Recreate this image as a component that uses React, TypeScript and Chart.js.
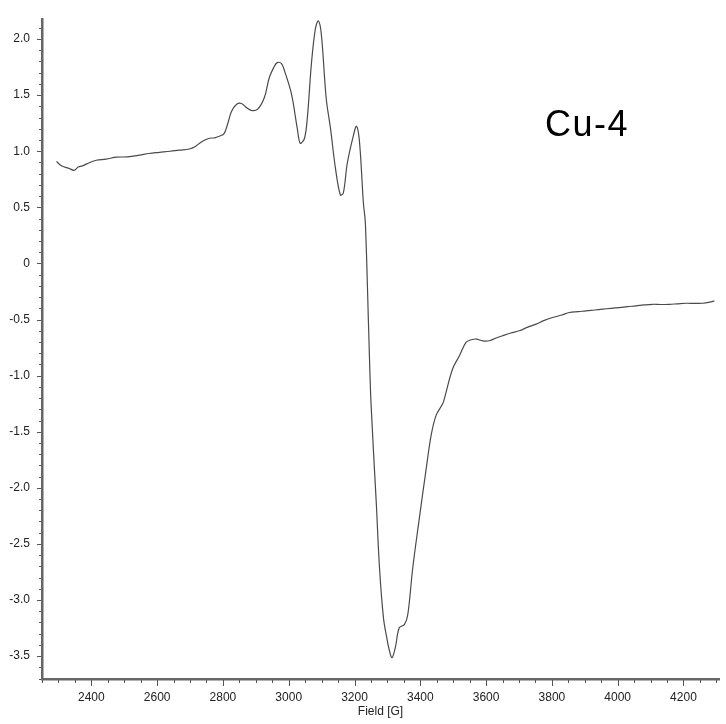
import React, { useEffect, useRef } from "react";
import { Chart, registerables } from "chart.js";

Chart.register(...registerables);

// Field (G) and EPR signal
const fieldG = [
  2294, 2309, 2330, 2348, 2360, 2373, 2395, 2415, 2445, 2476, 2510, 2546, 2575, 2607,
  2640, 2667, 2698, 2715, 2728, 2745, 2759, 2775, 2789, 2804, 2815, 2826, 2841, 2856,
  2871, 2886, 2905, 2926, 2941, 2955, 2965, 2978, 2987, 3008, 3026, 3035, 3048, 3057,
  3069, 3081, 3090, 3099, 3114, 3127, 3142, 3157, 3166, 3178, 3196, 3206, 3215, 3227,
  3233, 3243, 3250, 3266, 3276, 3288, 3298, 3306, 3314, 3324, 3336, 3352, 3362, 3377,
  3397, 3418, 3433, 3448, 3468, 3473, 3498, 3519, 3539, 3555, 3570, 3590, 3610, 3630,
  3650, 3675, 3701, 3725, 3752, 3775, 3802, 3830, 3853, 3880, 3904, 3930, 3954, 3980,
  4005, 4030, 4056, 4080, 4106, 4130, 4157, 4180, 4208, 4235, 4258, 4280, 4294,
];
const signal = [
  0.91, 0.87, 0.85, 0.83, 0.86, 0.87, 0.9, 0.92, 0.93, 0.947, 0.95, 0.965, 0.98, 0.99,
  1.0, 1.01, 1.02, 1.04, 1.07, 1.1, 1.116, 1.12, 1.133, 1.16, 1.25, 1.355, 1.417, 1.426,
  1.39, 1.364, 1.373, 1.479, 1.657, 1.75, 1.79, 1.781, 1.719, 1.515, 1.204, 1.071, 1.116, 1.311,
  1.781, 2.091, 2.162, 2.047, 1.47, 1.204, 0.849, 0.61, 0.627, 0.893, 1.133, 1.222, 1.089, 0.539,
  0.361, -0.588, -1.236, -2.123, -2.715, -3.159, -3.336, -3.45, -3.514, -3.425, -3.248, -3.217, -3.129, -2.715,
  -2.272, -1.828, -1.531, -1.354, -1.251, -1.207, -0.941, -0.822, -0.704, -0.68, -0.674, -0.69, -0.689, -0.665,
  -0.644, -0.62, -0.6, -0.57, -0.541, -0.51, -0.482, -0.46, -0.437, -0.43, -0.422, -0.415, -0.408, -0.4,
  -0.393, -0.385, -0.378, -0.37, -0.364, -0.366, -0.364, -0.36, -0.355, -0.356, -0.355, -0.345, -0.334,
];

const xTickLabels = [2400, 2600, 2800, 3000, 3200, 3400, 3600, 3800, 4000, 4200];
const yTickLabels = [2.0, 1.5, 1.0, 0.5, 0, -0.5, -1.0, -1.5, -2.0, -2.5, -3.0, -3.5];
const sampleName = "Cu-4";

const X_MIN = 2250;
const X_MAX = 4308;
const Y_MIN = -3.704;
const Y_MAX = 2.177;

function fmtY(v: number): string {
  if (Math.abs(v) < 1e-9) return "0";
  return v.toFixed(1);
}

const tickPlugin = {
  id: "minorMajorTicks",
  afterDraw(chart: any) {
    const ctx = chart.ctx;
    const xs = chart.scales.x;
    const ys = chart.scales.y;
    const area = chart.chartArea;
    ctx.save();
    ctx.strokeStyle = "#555";
    ctx.lineWidth = 1;
    for (let v = X_MIN; v <= X_MAX + 0.01; v += 50) {
      const px = Math.round(xs.getPixelForValue(v)) + 0.5;
      const major = v % 200 === 0;
      ctx.beginPath();
      ctx.moveTo(px, area.bottom + 1);
      ctx.lineTo(px, area.bottom + (major ? 7 : 4));
      ctx.stroke();
    }
    for (let i = Math.ceil(Y_MIN * 10); i <= Math.floor(Y_MAX * 10); i++) {
      const v = i / 10;
      const py = Math.round(ys.getPixelForValue(v)) + 0.5;
      const major = i % 5 === 0;
      ctx.beginPath();
      ctx.moveTo(area.left - 1, py);
      ctx.lineTo(area.left - (major ? 5 : 3), py);
      ctx.stroke();
    }
    ctx.fillStyle = "#000";
    ctx.font = "36px 'Liberation Sans', Arial, sans-serif";
    ctx.textAlign = "left";
    ctx.textBaseline = "alphabetic";
    try {
      (ctx as any).letterSpacing = "1.5px";
    } catch (e) {}
    ctx.fillText(sampleName, 545, 136);
    ctx.restore();
  },
};

export default function App() {
  const ref = useRef<HTMLCanvasElement | null>(null);

  useEffect(() => {
    document.body.style.margin = "0";
    const canvas = ref.current;
    if (!canvas) return;
    const data = fieldG.map((x, i) => ({ x, y: signal[i] }));
    const chart = new Chart(canvas, {
      type: "line",
      data: {
        datasets: [
          {
            data,
            borderColor: "#4a4a4a",
            borderWidth: 1.2,
            pointRadius: 0,
            tension: 0.35,
            fill: false,
          },
        ],
      },
      options: {
        animation: false,
        responsive: false,
        maintainAspectRatio: false,
        layout: { padding: { top: 15, right: 7, left: 0, bottom: 0 } },
        plugins: { legend: { display: false }, tooltip: { enabled: false } },
        scales: {
          x: {
            type: "linear",
            min: X_MIN,
            max: X_MAX,
            afterFit: (s: any) => {
              s.height = 45;
            },
            afterBuildTicks: (s: any) => {
              s.ticks = xTickLabels.map((v) => ({ value: v }));
            },
            grid: { display: true, drawOnChartArea: false, drawTicks: false },
            border: { display: true, color: "#666", width: 2.5 },
            ticks: {
              padding: 11,
              color: "#222",
              font: { family: "'Liberation Sans', Arial, sans-serif", size: 12 },
              maxRotation: 0,
              autoSkip: false,
              callback: (v: any) => String(v),
            },
            title: {
              display: true,
              text: "Field [G]",
              color: "#222",
              font: { family: "'Liberation Sans', Arial, sans-serif", size: 12 },
              padding: { top: 0, bottom: 5 },
            },
          },
          y: {
            type: "linear",
            min: Y_MIN,
            max: Y_MAX,
            afterFit: (s: any) => {
              s.width = 42;
            },
            afterBuildTicks: (s: any) => {
              s.ticks = yTickLabels.map((v) => ({ value: v }));
            },
            grid: { display: true, drawOnChartArea: false, drawTicks: false },
            border: { display: true, color: "#666", width: 2.5 },
            ticks: {
              padding: 12,
              color: "#222",
              font: { family: "'Liberation Sans', Arial, sans-serif", size: 12 },
              autoSkip: false,
              callback: (v: any) => fmtY(Number(v)),
            },
          },
        },
      },
      plugins: [tickPlugin],
    });
    return () => chart.destroy();
  }, []);

  return (
    <div style={{ width: 726, height: 724, background: "#fff" }}>
      <canvas ref={ref} width={726} height={724} style={{ display: "block" }} />
    </div>
  );
}
